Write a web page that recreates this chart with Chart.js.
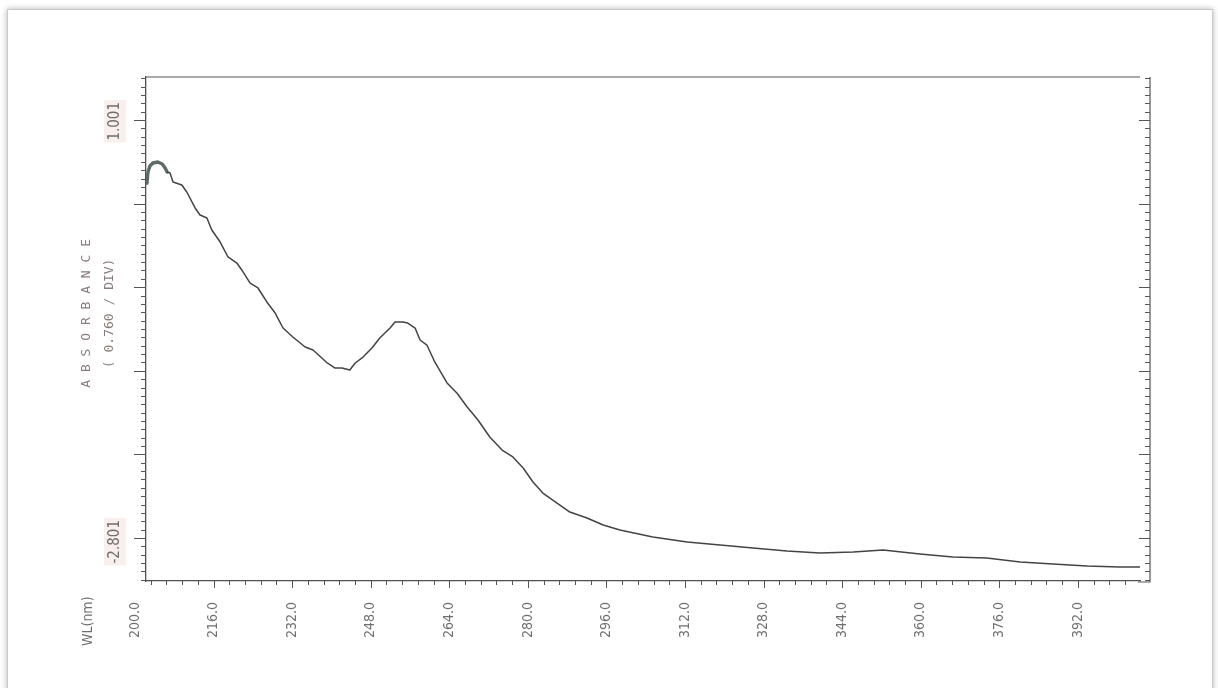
<!DOCTYPE html>
<html>
<head>
<meta charset="utf-8">
<title>Absorbance spectrum</title>
<script src="https://cdn.jsdelivr.net/npm/chart.js@4.4.1/dist/chart.umd.min.js"></script>
<style>
  html, body { margin: 0; padding: 0; background: #fff; width: 1218px; height: 688px; overflow: hidden; }
  #sheet { position: absolute; left: 7px; top: 9px; width: 1204px; height: 700px;
           border: 1px solid #c9c9c9; box-shadow: 0 0 6px rgba(0,0,0,0.3); background: #fff; }
  #wrap { position: absolute; left: 0; top: 0; width: 1218px; height: 688px; }
</style>
</head>
<body>
<div id="sheet"></div>
<div id="wrap"><canvas id="spectrum" width="1218" height="688"></canvas></div>
<script>
// Scan: wavelength (nm) against absorbance
const wavelengthNm = [
  200.2, 200.4, 200.8, 201.4, 202.4, 203.3, 203.9, 204.3, 204.9, 205.5,
  207.3, 208.3, 210.0, 211.0, 212.4, 213.4, 215.1, 216.7, 218.5, 219.5,
  221.2, 222.8, 224.6, 226.3, 227.9, 229.9, 232.4, 234.0, 235.8, 236.9,
  238.5, 239.9, 241.5, 242.6, 244.2, 246.0, 247.6, 249.7, 250.7, 252.3,
  253.3, 254.8, 255.8, 257.2, 258.8, 261.3, 263.3, 265.4, 267.6, 270.0,
  272.5, 274.7, 276.8, 278.8, 280.8, 283.7, 286.3, 289.8, 293.1, 296.5,
  303.2, 310.2, 316.9, 323.6, 330.5, 337.2, 344.0, 350.1, 357.6, 364.3,
  371.2, 378.0, 384.7, 391.6, 398.3, 402.4
];
const absorbance = [
  0.428, 0.528, 0.583, 0.610, 0.619, 0.601, 0.564, 0.528, 0.519, 0.437,
  0.410, 0.346, 0.201, 0.137, 0.110, 0.000, -0.109, -0.245, -0.300, -0.363,
  -0.482, -0.527, -0.654, -0.755, -0.891, -0.973, -1.064, -1.091, -1.164, -1.209,
  -1.255, -1.255, -1.273, -1.209, -1.155, -1.073, -0.982, -0.891, -0.836, -0.836,
  -0.846, -0.891, -1.000, -1.046, -1.200, -1.391, -1.482, -1.610, -1.728, -1.882,
  -2.001, -2.064, -2.164, -2.292, -2.392, -2.483, -2.565, -2.619, -2.683, -2.728,
  -2.792, -2.838, -2.865, -2.892, -2.919, -2.938, -2.928, -2.910, -2.947, -2.974,
  -2.983, -3.019, -3.038, -3.056, -3.065, -3.065
];
const wavelengthTicks = [200, 216, 232, 248, 264, 280, 296, 312, 328, 344, 360, 376, 392];
const absorbanceLabels = [1.001, -2.801];
const absorbancePerDiv = 0.7604;
const wavelengthRange = [200, 402.4];
const absorbanceRange = [-3.192, 1.392];

const narrowFont = "'Liberation Sans Narrow', 'DejaVu Sans Condensed', 'Roboto Condensed', 'Liberation Sans', sans-serif";
const monoFont = "'DejaVu Sans Mono', 'Liberation Mono', monospace";
const LABEL_SHIFT = -11;

// Recorder-style frame: top edge, right rail and the fine tick marks
const plotterFrame = {
  id: 'plotterFrame',
  afterDraw(chart) {
    const { ctx, chartArea: { left, right, top, bottom }, scales: { x, y } } = chart;
    const rail = right + 10;
    ctx.save();
    ctx.strokeStyle = '#555';
    ctx.lineWidth = 1.2;
    ctx.beginPath();
    ctx.moveTo(left, top); ctx.lineTo(right, top);
    ctx.moveTo(rail, top); ctx.lineTo(rail, bottom + 1); ctx.lineTo(right - 2, bottom + 1);
    ctx.stroke();

    ctx.lineWidth = 1;
    ctx.beginPath();
    for (let k = -80; k <= 80; k++) {
      const v = absorbanceLabels[0] + k * absorbancePerDiv / 10;
      if (v < y.min || v > y.max) continue;
      const py = Math.round(y.getPixelForValue(v)) + 0.5;
      const major = k % 10 === 0;
      ctx.moveTo(left, py); ctx.lineTo(left - (major ? 12 : 5), py);
      ctx.moveTo(rail, py); ctx.lineTo(rail - (major ? 11 : 5), py);
    }
    for (let j = 0; j < 200; j++) {
      const nm = wavelengthRange[0] + j * 3.2;
      if (nm > x.max + 3) break;
      const px = Math.round(x.getPixelForValue(nm) + LABEL_SHIFT) + 0.5;
      if (px < left + 2 || px > right) continue;
      ctx.moveTo(px, bottom); ctx.lineTo(px, bottom + (j % 5 === 0 ? 7 : 4));
    }
    ctx.stroke();

    // abscissa name
    ctx.fillStyle = '#6f6f6f';
    ctx.font = "14px " + narrowFont;
    ctx.translate(88, 646);
    ctx.rotate(-Math.PI / 2);
    ctx.textAlign = 'left';
    ctx.textBaseline = 'middle';
    ctx.fillText('WL(nm)', 0, 0);
    ctx.restore();
  }
};

new Chart(document.getElementById('spectrum'), {
  type: 'scatter',
  data: {
    datasets: [{
      data: wavelengthNm.map((nm, i) => ({ x: nm, y: absorbance[i] })),
      showLine: true,
      pointRadius: 0,
      borderColor: '#444',
      borderWidth: 1.5,
      borderJoinStyle: 'round',
      borderCapStyle: 'round',
      tension: 0,
      segment: {
        borderWidth: ctx => ctx.p0.parsed.x < 204.3 ? 3.4 : 1.5,
        borderColor: ctx => ctx.p0.parsed.x < 204.3 ? '#5d6c69' : '#444'
      }
    }]
  },
  options: {
    responsive: false,
    animation: false,
    events: [],
    layout: { padding: { left: 60, right: 78, top: 77, bottom: 0 } },
    plugins: { legend: { display: false }, tooltip: { enabled: false } },
    scales: {
      x: {
        type: 'linear',
        min: wavelengthRange[0],
        max: wavelengthRange[1],
        afterBuildTicks: s => { s.ticks = wavelengthTicks.map(v => ({ value: v })); },
        afterFit: s => { s.height = 107; },
        ticks: {
          autoSkip: false,
          minRotation: 90,
          maxRotation: 90,
          labelOffset: LABEL_SHIFT,
          padding: 21,
          color: '#6f6f6f',
          font: { family: narrowFont, size: 14 },
          callback: v => Number(v).toFixed(1)
        },
        grid: { display: true, drawOnChartArea: false, drawTicks: false },
        border: { display: true, color: '#505050', width: 1.3 }
      },
      y: {
        type: 'linear',
        min: absorbanceRange[0],
        max: absorbanceRange[1],
        afterBuildTicks: s => { s.ticks = absorbanceLabels.map(v => ({ value: v })); },
        afterFit: s => { s.width = 86; },
        ticks: {
          autoSkip: false,
          minRotation: 90,
          maxRotation: 90,
          labelOffset: -18,
          padding: 31,
          color: '#6f6f6f',
          font: { family: narrowFont, size: 15 },
          showLabelBackdrop: true,
          backdropColor: 'rgba(242,220,216,0.45)',
          backdropPadding: 2,
          callback: v => Number(v).toFixed(3)
        },
        title: {
          display: true,
          text: ['    A B S O R B A N C E', '    ( 0.760 / DIV)'],
          color: '#8a7c7b',
          font: { family: monoFont, size: 13, lineHeight: '23px' },
          padding: { top: 15, bottom: 0 }
        },
        grid: { display: true, drawOnChartArea: false, drawTicks: false },
        border: { display: true, color: '#505050', width: 1.3 }
      }
    }
  },
  plugins: [plotterFrame]
});
</script>
</body>
</html>
